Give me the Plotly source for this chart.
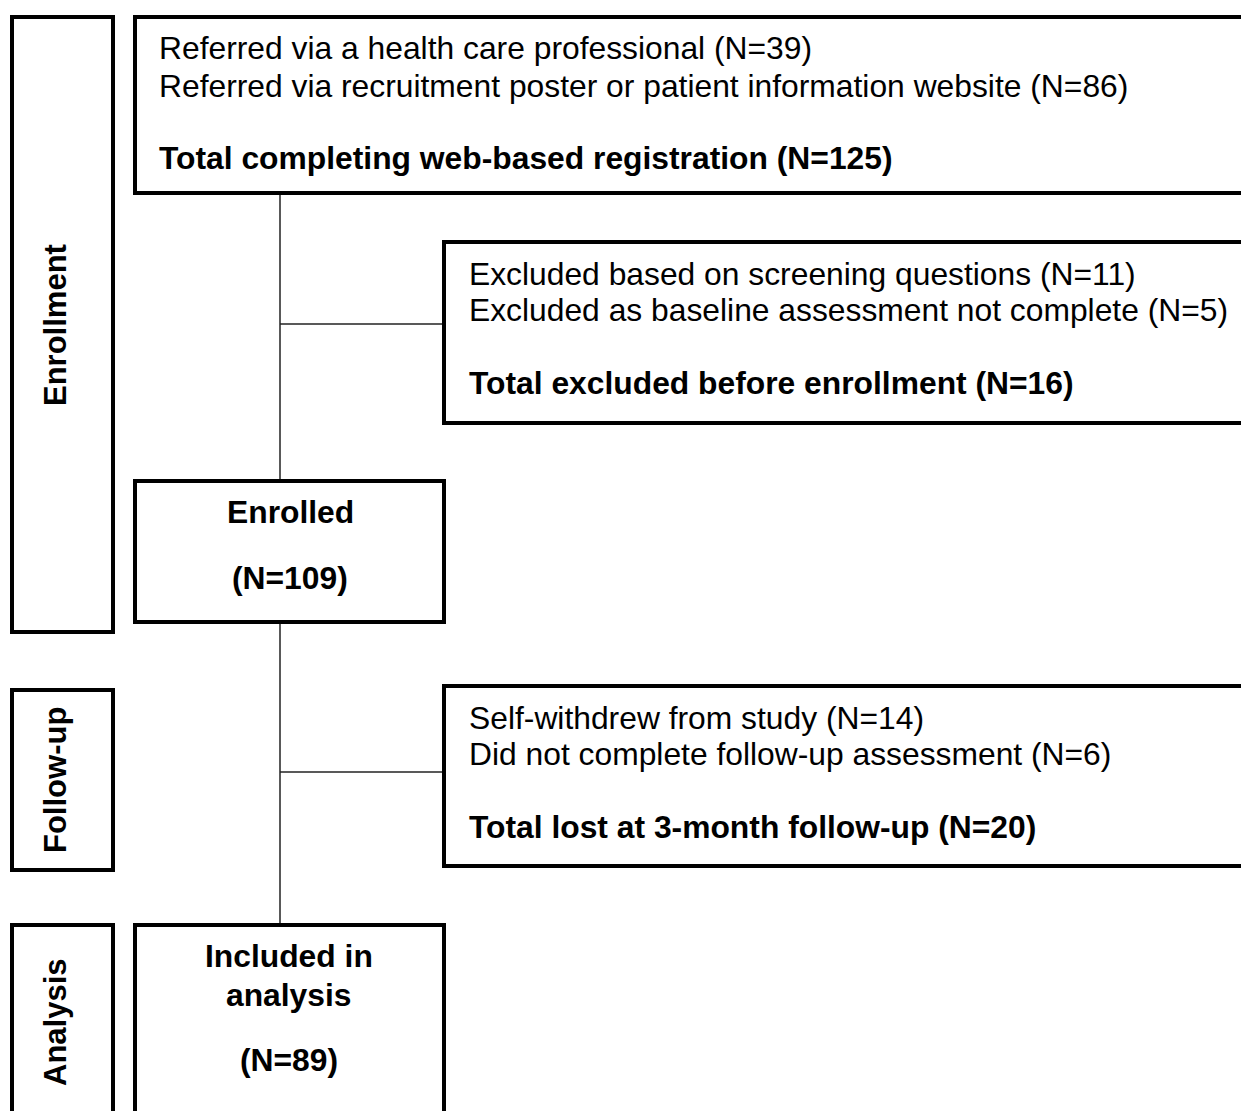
import plotly.graph_objects as go

# ---------------- data ----------------
stage_labels = ["Enrollment", "Follow-up", "Analysis"]

referral_labels = ["Referred via a health care professional",
                   "Referred via recruitment poster or patient information website"]
referral_counts = [39, 86]
registered_label = "Total completing web-based registration"
registered_count = 125

excl_labels = ["Excluded based on screening questions",
               "Excluded as baseline assessment not complete"]
excl_counts = [11, 5]
excl_total_label = "Total excluded before enrollment"
excl_total = 16

enrolled_label = "Enrolled"
enrolled_count = 109

lost_labels = ["Self-withdrew from study", "Did not complete follow-up assessment"]
lost_counts = [14, 6]
lost_total_label = "Total lost at 3-month follow-up"
lost_total = 20

analysis_label = ["Included in", "analysis"]
analysis_count = 89

# ---------------- geometry (pixels) ----------------
W, H = 1241, 1111
FONT = "Liberation Sans, Arial, sans-serif"
FS = 31.8
FS_STAGE = 31
thick = dict(color="black", width=4)
thin = dict(color="#222222", width=1.5)

fig = go.Figure()
fig.add_trace(go.Scatter(x=[0, W], y=[0, H], mode="markers",
                         marker=dict(opacity=0), hoverinfo="skip", showlegend=False))

def box(x0, y0, x1, y1):
    fig.add_shape(type="rect", xref="x", yref="y", x0=x0, y0=y0, x1=x1, y1=y1,
                  line=thick, fillcolor="rgba(0,0,0,0)", layer="above")

def line(x0, y0, x1, y1):
    fig.add_shape(type="line", xref="x", yref="y", x0=x0, y0=y0, x1=x1, y1=y1,
                  line=thin, layer="below")

def text(x, y, t, bold=False, anchor="left", angle=0, size=FS):
    if bold:
        t = "<b>" + t + "</b>"
    fig.add_annotation(x=x, y=y, xref="x", yref="y", text=t, showarrow=False,
                       xanchor=anchor, yanchor="middle", textangle=angle,
                       font=dict(family=FONT, size=size, color="black"))

# stage boxes
box(12, 17, 113, 632)
box(12, 690, 113, 870)
box(12, 925, 113, 1160)
text(55, 325, stage_labels[0], bold=True, anchor="center", angle=-90, size=FS_STAGE)
text(55, 780, stage_labels[1], bold=True, anchor="center", angle=-90, size=FS_STAGE)
text(55, 1022, stage_labels[2], bold=True, anchor="center", angle=-90, size=FS_STAGE)

# connectors
line(280, 193, 280, 481)
line(280, 622, 280, 925)
line(280, 324, 444, 324)
line(280, 772, 444, 772)

# top box
box(135, 17, 1300, 193)
text(157, 48, f"{referral_labels[0]} (N={referral_counts[0]})")
text(157, 86, f"{referral_labels[1]} (N={referral_counts[1]})")
text(157, 158, f"{registered_label} (N={registered_count})", bold=True)

# exclusion box
box(444, 242, 1300, 423)
text(467, 274, f"{excl_labels[0]} (N={excl_counts[0]})")
text(467, 310, f"{excl_labels[1]} (N={excl_counts[1]})")
text(467, 383, f"{excl_total_label} (N={excl_total})", bold=True)

# enrolled
box(135, 481, 444, 622)
text(290, 512, enrolled_label, bold=True, anchor="center")
text(290, 578, f"(N={enrolled_count})", bold=True, anchor="center")

# lost box
box(444, 686, 1300, 866)
text(467, 718, f"{lost_labels[0]} (N={lost_counts[0]})")
text(467, 754, f"{lost_labels[1]} (N={lost_counts[1]})")
text(467, 827, f"{lost_total_label} (N={lost_total})", bold=True)

# analysis
box(135, 925, 444, 1160)
text(289, 956, analysis_label[0], bold=True, anchor="center")
text(289, 995, analysis_label[1], bold=True, anchor="center")
text(289, 1060, f"(N={analysis_count})", bold=True, anchor="center")

fig.update_layout(width=W, height=H, margin=dict(l=0, r=0, t=0, b=0),
                  paper_bgcolor="white", plot_bgcolor="white",
                  xaxis=dict(range=[0, W], visible=False, fixedrange=True),
                  yaxis=dict(range=[H, 0], visible=False, fixedrange=True),
                  showlegend=False)
fig.write_html("out.html", config={"displayModeBar": False},
               post_script="document.body.style.margin='0';document.body.style.overflow='hidden';")
